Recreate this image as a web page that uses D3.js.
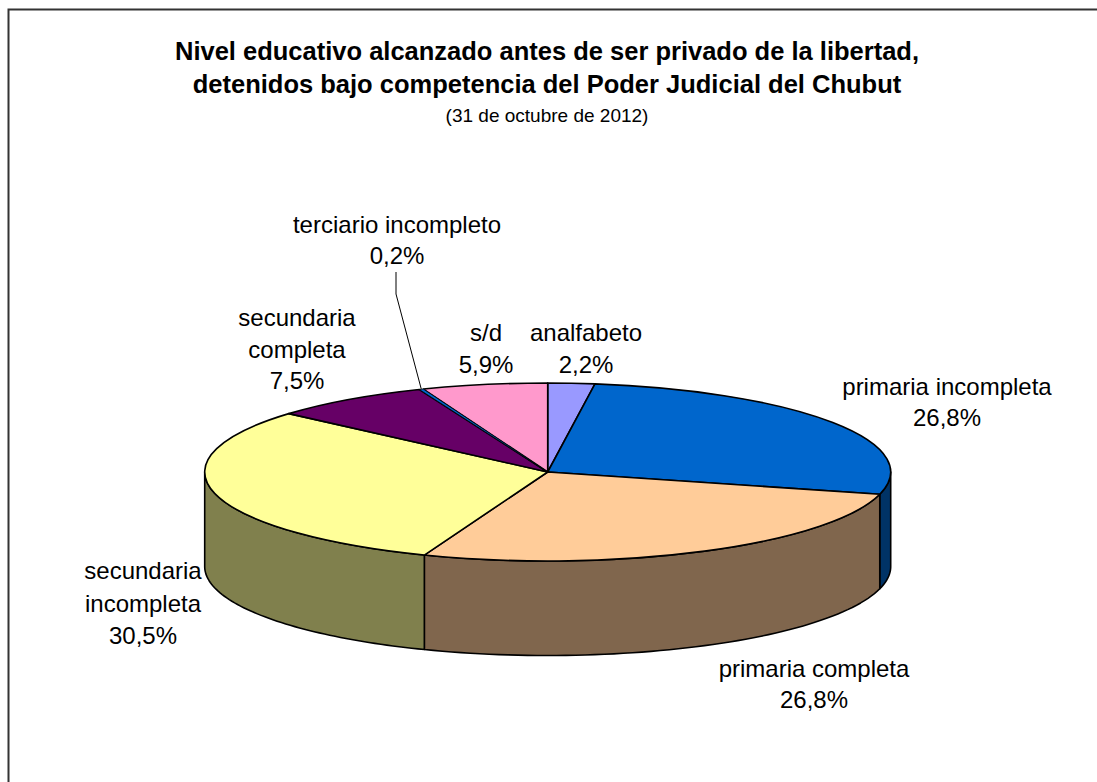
<!DOCTYPE html>
<html>
<head>
<meta charset="utf-8">
<script src="https://cdn.jsdelivr.net/npm/d3@7"></script>
<style>
  html, body { margin: 0; padding: 0; background: #fff; overflow: hidden; }
  text { font-family: "Liberation Sans", Arial, sans-serif; fill: #000; }
</style>
</head>
<body>
<div id="chart"></div>
<script>
var categories = ['analfabeto', 'primaria incompleta', 'primaria completa', 'secundaria incompleta',
  'secundaria completa', 'terciario incompleto', 's/d'];
var values = [2.2, 26.8, 26.8, 30.5, 7.5, 0.2, 5.9];
var colors = ['#9999FF', '#0066CC', '#FFCC99', '#FFFF99', '#660066', '#0066CC', '#FF99CC'];
var titleLines = ['Nivel educativo alcanzado antes de ser privado de la libertad,',
  'detenidos bajo competencia del Poder Judicial del Chubut'];
var subtitle = '(31 de octubre de 2012)';

var width = 1097, height = 782;
var cx = 547.7, cy = 472, rx = 343, ry = 89, depth = 94.5;

// where each label sits, same order as categories
var labelLayout = [
  { x: 586, y: 341, step: 31.5, lines: ['analfabeto'] },
  { x: 947, y: 395, step: 31, lines: ['primaria incompleta'] },
  { x: 814, y: 677, step: 30.5, lines: ['primaria completa'] },
  { x: 143, y: 579, step: 32.5, lines: ['secundaria', 'incompleta'] },
  { x: 297, y: 326, step: 31.5, lines: ['secundaria', 'completa'] },
  { x: 397, y: 232.5, step: 31, lines: ['terciario incompleto'] },
  { x: 486, y: 341, step: 31.5, lines: ['s/d'] }
];

var svg = d3.select('#chart')
  .append('svg')
  .attr('width', width)
  .attr('height', height)
  .style('display', 'block');

// only the top and left edges of the frame show
svg.append('path')
  .attr('d', 'M8.5,782V9.5H1097')
  .attr('fill', 'none')
  .attr('stroke', '#333')
  .attr('stroke-width', 2);

svg.selectAll('.title')
  .data(titleLines)
  .enter()
  .append('text')
  .attr('class', 'title')
  .attr('x', 547)
  .attr('y', function (d, i) { return 59.5 + i * 33.5; })
  .attr('text-anchor', 'middle')
  .style('font-size', '25.5px')
  .style('font-weight', 'bold')
  .text(function (d) { return d; });

svg.append('text')
  .attr('x', 547)
  .attr('y', 122)
  .attr('text-anchor', 'middle')
  .style('font-size', '19px')
  .text(subtitle);

var pie = d3.pie().sort(null)
  .value(function (d) { return d; });
var arcs = pie(values);

function halfTone(c) {
  var rgb = d3.rgb(c);
  return d3.rgb(rgb.r * 0.5, rgb.g * 0.5, rgb.b * 0.5).formatHex();
}

// rim point of the squashed pie, angle clockwise from the top
function rimX(a) { return cx + rx * Math.sin(a); }
function rimY(a) { return cy - ry * Math.cos(a); }

var rimLine = d3.line()
  .x(function (d) { return d[0]; })
  .y(function (d) { return d[1]; });

// side wall: only the part of each slice between 90 and 270 degrees faces the viewer
var sides = svg.append('g');
arcs.forEach(function (d, i) {
  var a0 = Math.max(d.startAngle, Math.PI / 2);
  var a1 = Math.min(d.endAngle, Math.PI * 1.5);
  if (a1 <= a0) return;
  var angles = d3.range(0, 61).map(function (k) { return a0 + (a1 - a0) * k / 60; });
  var pts = angles.map(function (a) { return [rimX(a), rimY(a)]; })
    .concat(angles.slice().reverse().map(function (a) { return [rimX(a), rimY(a) + depth]; }));
  sides.append('path')
    .attr('d', rimLine(pts) + 'Z')
    .attr('fill', halfTone(colors[i]))
    .attr('stroke', '#000')
    .attr('stroke-width', 1.6)
    .attr('stroke-linejoin', 'round');
});

var arc = d3.arc().innerRadius(0).outerRadius(rx);

var thinIndex = categories.indexOf('terciario incompleto');

var slices = svg.append('g')
  .attr('transform', 'translate(' + cx + ',' + cy + ') scale(1,' + (ry / rx) + ')')
  .selectAll('path')
  .data(arcs)
  .enter()
  .append('path')
  .attr('d', arc)
  .attr('fill', function (d, i) { return colors[i]; })
  .attr('stroke', '#000')
  .attr('stroke-width', function (d, i) { return i == thinIndex ? 0.7 : 1.6; })
  .attr('stroke-linejoin', 'round')
  .attr('vector-effect', 'non-scaling-stroke');

// thin slice goes on top, otherwise its neighbours' outlines hide the blue
slices.filter(function (d, i) { return i == thinIndex; }).raise();

// leader for the thin terciario slice
var thin = arcs[thinIndex];
var thinMid = (thin.startAngle + thin.endAngle) / 2;
svg.append('path')
  .attr('d', rimLine([[396, 272], [396, 294], [rimX(thinMid), rimY(thinMid)]]))
  .attr('fill', 'none')
  .attr('stroke', '#000')
  .attr('stroke-width', 1);

labelLayout.forEach(function (l, i) {
  var rows = l.lines.concat([String(values[i].toFixed(1)).replace('.', ',') + '%']);
  var t = svg.append('text')
    .attr('text-anchor', 'middle')
    .style('font-size', '24px');
  rows.forEach(function (row, k) {
    t.append('tspan')
      .attr('x', l.x)
      .attr('y', l.y + k * l.step)
      .text(row);
  });
});
</script>
</body>
</html>
